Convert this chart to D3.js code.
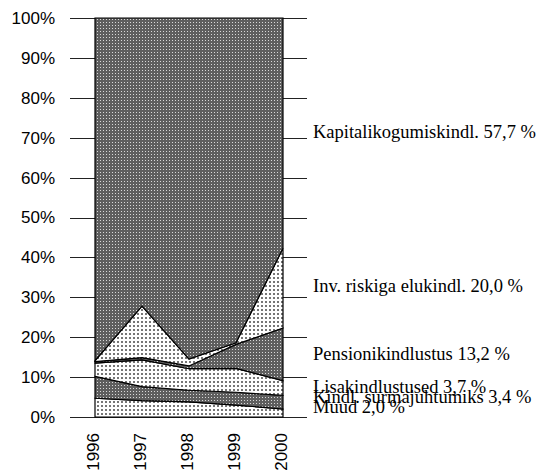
<!DOCTYPE html>
<html>
<head>
<meta charset="utf-8">
<script src="https://cdnjs.cloudflare.com/ajax/libs/d3/7.8.5/d3.min.js"></script>
<style>
  body { margin: 0; background: #fff; }
  .axis-label { font-family: "Liberation Sans", Arial, sans-serif; font-size: 17px; fill: #000; }
  .series-label { font-family: "Liberation Serif", "Times New Roman", serif; font-size: 18.5px; fill: #000; }
</style>
</head>
<body>
<svg width="539" height="472"></svg>
<script>
// data (percent of total, per year)
var years = ["1996", "1997", "1998", "1999", "2000"];
var muud     = [4.7, 4.1, 3.8, 3.0, 2.0];
var surm     = [5.5, 3.5, 2.9, 3.2, 3.4];
var lisa     = [3.3, 6.7, 5.4, 6.0, 3.7];
var pension  = [0.4, 0.6, 0.7, 6.0, 13.2];
var invrisk  = [0.2, 12.9, 1.7, 0.4, 20.0];
var kapital  = [85.9, 72.2, 85.5, 81.4, 57.7];

var seriesNames = ["muud", "surm", "lisa", "pension", "invrisk", "kapital"];
var seriesLabels = [
  "Muud 2,0 %",
  "Kindl. surmajuhtumiks 3,4 %",
  "Lisakindlustused 3,7 %",
  "Pensionikindlustus 13,2 %",
  "Inv. riskiga elukindl. 20,0 %",
  "Kapitalikogumiskindl. 57,7 %"
];
var yTicks = [0, 10, 20, 30, 40, 50, 60, 70, 80, 90, 100];

// where each series label sits on the right (in axis percent)
var labelAt = [1.1, 3.4, 6.1, 14.3, 31.3, 70.0];

var svg = d3.select("svg");

var table = years.map(function(yr, i) {
  return {year: yr, muud: muud[i], surm: surm[i], lisa: lisa[i],
          pension: pension[i], invrisk: invrisk[i], kapital: kapital[i]};
});

var stack = d3.stack().keys(seriesNames);
var layers = stack(table);

var x = d3.scalePoint().domain(years).range([95, 283]),
    y = d3.scaleLinear().domain([0, 100]).range([417, 18]);

// fill patterns: dark dotted and light dotted
var defs = svg.append("defs");

var dark = defs.append("pattern")
    .attr("id", "dark")
    .attr("patternUnits", "userSpaceOnUse")
    .attr("width", 3)
    .attr("height", 3);
dark.append("rect").attr("width", 3).attr("height", 3).attr("fill", "#5e5e5e");
dark.append("rect").attr("x", 1).attr("y", 1).attr("width", 1).attr("height", 1).attr("fill", "#d8d8d8");

var light = defs.append("pattern")
    .attr("id", "light")
    .attr("patternUnits", "userSpaceOnUse")
    .attr("width", 4)
    .attr("height", 4);
light.append("rect").attr("width", 4).attr("height", 4).attr("fill", "#ffffff");
light.append("rect").attr("x", 1).attr("y", 1).attr("width", 2).attr("height", 2).attr("fill", "#767676");

// gridlines (only the bits outside the plot stay visible)
svg.append("g")
  .selectAll("line")
  .data(yTicks)
  .enter().append("line")
    .attr("x1", 70)
    .attr("x2", 307)
    .attr("y1", function(d) { return Math.round(y(d)) + 0.5; })
    .attr("y2", function(d) { return Math.round(y(d)) + 0.5; })
    .style("stroke", "#222")
    .style("stroke-width", 1);

var area = d3.area()
    .x(function(d) { return x(d.data.year); })
    .y0(function(d) { return y(d[0]); })
    .y1(function(d) { return y(d[1]); });

svg.append("g")
  .selectAll("path")
  .data(layers)
  .enter().append("path")
    .attr("d", area)
    .attr("fill", function(d, i) { return i % 2 === 0 ? "url(#light)" : "url(#dark)"; })
    .style("stroke", "#000")
    .style("stroke-width", 1.2)
    .style("stroke-linejoin", "miter");

// y axis labels
svg.append("g")
  .selectAll("text")
  .data(yTicks)
  .enter().append("text")
    .attr("class", "axis-label")
    .attr("x", 55)
    .attr("y", function(d) { return y(d); })
    .attr("dy", "0.35em")
    .attr("text-anchor", "end")
    .text(function(d) { return d + "%"; });

// x axis labels, rotated
svg.append("g")
  .selectAll("text")
  .data(years)
  .enter().append("text")
    .attr("class", "axis-label")
    .attr("transform", function(d) { return "translate(" + (x(d) + 3.5) + ",433) rotate(-90)"; })
    .attr("text-anchor", "end")
    .text(function(d) { return d; });

// series labels on the right
svg.append("g")
  .selectAll("text")
  .data(seriesLabels)
  .enter().append("text")
    .attr("class", "series-label")
    .attr("x", 313)
    .attr("y", function(d, i) { return y(labelAt[i]); })
    .text(function(d) { return d; });
</script>
</body>
</html>
